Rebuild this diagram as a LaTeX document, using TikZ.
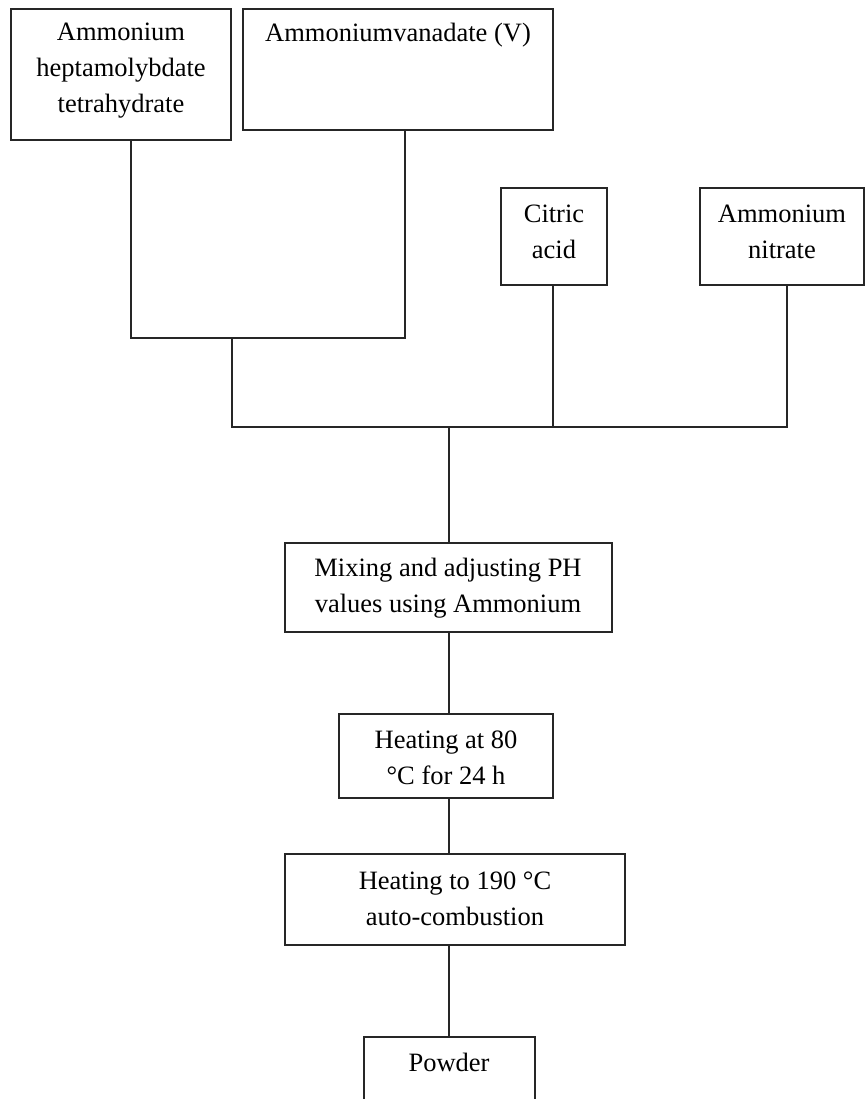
\documentclass[tikz,border=0pt]{standalone}
\usepackage{fontspec}
\setmainfont{Liberation Serif}
\begin{document}
\begin{tikzpicture}[x=1pt,y=-1pt,
  box/.style={draw=black!85,line width=1.6pt,inner sep=0pt,rectangle},
  txt/.style={align=center,inner sep=0pt,font=\fontsize{26.5}{36}\selectfont},
  conn/.style={draw=black!85,line width=1.6pt}]
\clip (0,0) rectangle (865,1099);
\fill[white] (0,0) rectangle (865,1099);
% boxes
\node[box,minimum width=220,minimum height=131] (b1) at (121,74.5) {};
\node[box,minimum width=310,minimum height=121] (b2) at (398,69.5) {};
\node[box,minimum width=106,minimum height=97] (b3) at (554,236.5) {};
\node[box,minimum width=164,minimum height=97] (b4) at (782,236.5) {};
\node[box,minimum width=327,minimum height=89] (mix) at (448.5,587.5) {};
\node[box,minimum width=214,minimum height=84] (h80) at (446,756) {};
\node[box,minimum width=340,minimum height=91] (h190) at (455,899.5) {};
\node[box,minimum width=171,minimum height=83] (pow) at (449.5,1078.5) {};
% texts
\node[txt] (t1) at (121,71) {Ammonium\\heptamolybdate\\tetrahydrate};
\node[txt] (t2) at (398,35) {Ammoniumvanadate (V)};
\node[txt] (t3) at (554,232) {Citric\\acid};
\node[txt] (t4) at (782,232) {Ammonium\\nitrate};
\node[txt] (t5) at (448,588) {Mixing and adjusting PH\\values using Ammonium};
\node[txt] (t6) at (446,758) {Heating at 80\\°C for 24 h};
\node[txt] (t7) at (455,899) {Heating to 190 °C\\auto-combustion};
\node[txt] (t8) at (449,1062) {Powder};
% junctions
\coordinate (jL) at (131,338);
\coordinate (jR) at (405,338);
\coordinate (jM) at (232,338);
\coordinate (k1) at (232,427);
\coordinate (k2) at (449,427);
\coordinate (k3) at (553,427);
\coordinate (k4) at (787,427);
% connectors
\draw[conn] (b1.south -| jL) -- (jL) -- (jR) -- (b2.south -| jR);
\draw[conn] (jM) -- (k1) -- (k4) -- (b4.south -| k4);
\draw[conn] (k3) -- (b3.south -| k3);
\draw[conn] (k2) -- (mix.north -| k2);
\draw[conn] (mix.south -| k2) -- (h80.north -| k2);
\draw[conn] (h80.south -| k2) -- (h190.north -| k2);
\draw[conn] (h190.south -| k2) -- (pow.north -| k2);
\end{tikzpicture}
\end{document}
